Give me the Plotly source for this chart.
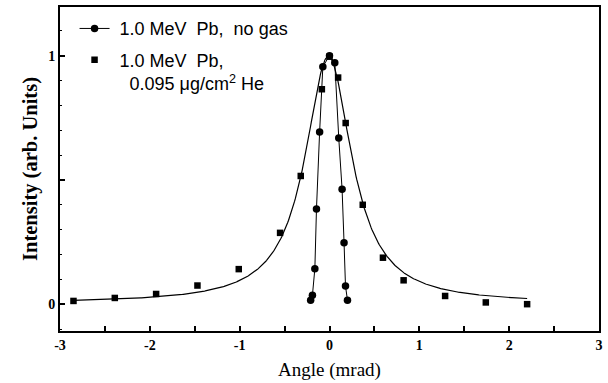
import numpy as np
import plotly.graph_objects as go

# Angular scan without gas target (filled circles, joined by a line)
nogas_angle = [-0.21, -0.19, -0.163, -0.145, -0.11, -0.074, 0.0, 0.059, 0.103, 0.14, 0.162, 0.178, 0.20]
nogas_intensity = [0.016, 0.036, 0.143, 0.383, 0.693, 0.956, 1.0, 0.972, 0.669, 0.463, 0.247, 0.073, 0.016]

# Angular scan through 0.095 ug/cm2 He (filled squares)
he_angle = [-2.85, -2.39, -1.93, -1.47, -1.01, -0.55, -0.32, -0.085, 0.0, 0.096, 0.18, 0.37,
            0.595, 0.825, 1.287, 1.74, 2.2]
he_intensity = [0.013, 0.025, 0.041, 0.075, 0.141, 0.287, 0.516, 0.865, 0.996, 0.912, 0.729, 0.40,
                0.187, 0.096, 0.033, 0.007, 0.0]

# Lorentzian fit to the He data
fit_center = -0.012
fit_hwhm = 0.316
fit_amp = 0.995
fit_base = 0.003
fit_span = (-2.85, 2.2)

x_tick_vals = [-3, -2.5, -2, -1.5, -1, -0.5, 0, 0.5, 1, 1.5, 2, 2.5, 3]
x_tick_text = ["-3", "", "-2", "", "-1", "", "0", "", "1", "", "2", "", "3"]
y_tick_vals = [0, 0.5, 1]
y_tick_text = ["0", "", "1"]

fit_x = np.linspace(fit_span[0], fit_span[1], 600)
fit_y = fit_base + fit_amp / (1.0 + ((fit_x - fit_center) / fit_hwhm) ** 2)

fig = go.Figure()

fig.add_trace(go.Scatter(
    x=fit_x, y=fit_y, mode="lines",
    line=dict(color="black", width=1.2),
    showlegend=False, hoverinfo="skip",
))

fig.add_trace(go.Scatter(
    x=nogas_angle, y=nogas_intensity, mode="lines+markers",
    name=" 1.0 MeV  Pb,  no gas", legendgroup="a",
    line=dict(color="black", width=1),
    marker=dict(symbol="circle", size=7.5, color="black"),
))

fig.add_trace(go.Scatter(
    x=he_angle, y=he_intensity, mode="markers",
    name=" 1.0 MeV  Pb,<br>   0.095 \u03bcg/cm<sup>2</sup> He", legendgroup="b",
    marker=dict(symbol="square", size=6.5, color="black"),
))

axis_common = dict(
    showgrid=False, zeroline=False,
    showline=True, linecolor="black", linewidth=2, mirror=True,
    ticks="inside", tickcolor="black", tickwidth=1.5,
    tickfont=dict(family="Liberation Serif", size=14, color="black", weight="bold"),
)

fig.update_xaxes(
    range=[-3, 3],
    tickmode="array", tickvals=x_tick_vals, ticktext=x_tick_text,
    ticklen=5,
    title=dict(text="Angle (mrad)", standoff=11,
               font=dict(family="Liberation Serif", size=19, color="black")),
    **axis_common,
)

fig.update_yaxes(
    range=[-0.108, 1.196],
    tickmode="array", tickvals=y_tick_vals, ticktext=y_tick_text,
    ticklen=5,
    minor=dict(dtick=0.1, ticks="inside", ticklen=2, tickcolor="black", tickwidth=1),
    title=dict(text="Intensity (arb. Units)", standoff=5,
               font=dict(family="Liberation Serif", size=20.5, color="black", weight="bold")),
    **axis_common,
)

fig.update_layout(
    width=608, height=383,
    margin=dict(l=60, r=7, t=5, b=52),
    paper_bgcolor="white", plot_bgcolor="white",
    showlegend=True,
    legend=dict(
        x=0.027, y=0.99, xanchor="left", yanchor="top",
        bgcolor="rgba(0,0,0,0)", borderwidth=0,
        font=dict(family="Liberation Sans", size=18, color="black"),
        valign="top", traceorder="grouped", tracegroupgap=5,
    ),
)

fig.write_html("out.html")
